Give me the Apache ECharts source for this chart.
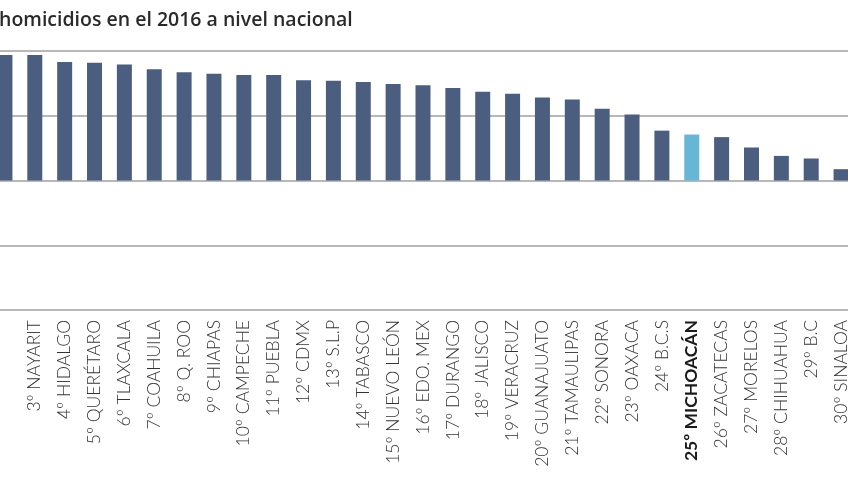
<!DOCTYPE html>
<html>
<head>
<meta charset="utf-8">
<script src="https://cdn.jsdelivr.net/npm/echarts@6/dist/echarts.min.js"></script>
<style>
html,body{margin:0;padding:0;background:#fff;overflow:hidden;}
#c{width:866px;height:477px;position:absolute;left:-10px;top:0;}
</style>
</head>
<body>
<div id="c"></div>
<script>
const titleText = 'homicidios en el 2016 a nivel nacional';
const categories = ['', '3º NAYARIT', '4º HIDALGO', '5º QUERÉTARO', '6º TLAXCALA', '7º COAHUILA', '8º Q. ROO', '9º CHIAPAS', '10º CAMPECHE', '11º PUEBLA', '12º CDMX', '13º S.L.P', '14º TABASCO', '15º NUEVO LEÓN', '16º EDO. MEX', '17º DURANGO', '18º JALISCO', '19º VERACRUZ', '20º GUANAJUATO', '21º TAMAULIPAS', '22º SONORA', '23º OAXACA', '24º B.C.S', '25º MICHOACÁN', '26º ZACATECAS', '27º MORELOS', '28º CHIHUAHUA', '29º B.C', '30º SINALOA'];
const values = [19.4, 19.4, 18.3, 18.2, 17.9, 17.2, 16.7, 16.5, 16.3, 16.3, 15.5, 15.4, 15.2, 14.9, 14.7, 14.3, 13.7, 13.4, 12.8, 12.5, 11.1, 10.2, 7.7, 7.1, 6.7, 5.1, 3.8, 3.4, 1.75];
const highlight = '25º MICHOACÁN';
const yMin = -20, yMax = 20, yStep = 10;

const chart = echarts.init(document.getElementById('c'), null, {renderer: 'canvas'});
chart.setOption({
  animation: false,
  title: {
    text: titleText,
    left: 9, top: 10, padding: 0,
    textStyle: {fontFamily: 'Open Sans', fontWeight: 600, fontSize: 19.5, color: '#2a2a2a'}
  },
  grid: {left: 0, right: 0, top: 51, bottom: 167, containLabel: false},
  xAxis: {
    type: 'category',
    data: categories.map(c => c === highlight ? {value: c, textStyle: {fontWeight: 'bold', color: '#1a1a1a'}} : c),
    axisLine: {show: false},
    axisTick: {show: false},
    axisLabel: {rotate: 90, margin: 10, fontSize: 17.5, fontFamily: 'Lato', fontWeight: 300, color: '#333', interval: 0}
  },
  yAxis: {
    type: 'value', min: yMin, max: yMax, interval: yStep,
    axisLine: {show: false}, axisTick: {show: false}, axisLabel: {show: false},
    splitLine: {lineStyle: {color: '#b8b8b8', width: 2}}
  },
  series: [{
    type: 'bar',
    barWidth: 15,
    data: values.map((v, i) => categories[i] === highlight ? {value: v, itemStyle: {color: '#67b6d6'}} : v),
    itemStyle: {color: '#4b5e80'}
  }]
});
</script>
</body>
</html>
